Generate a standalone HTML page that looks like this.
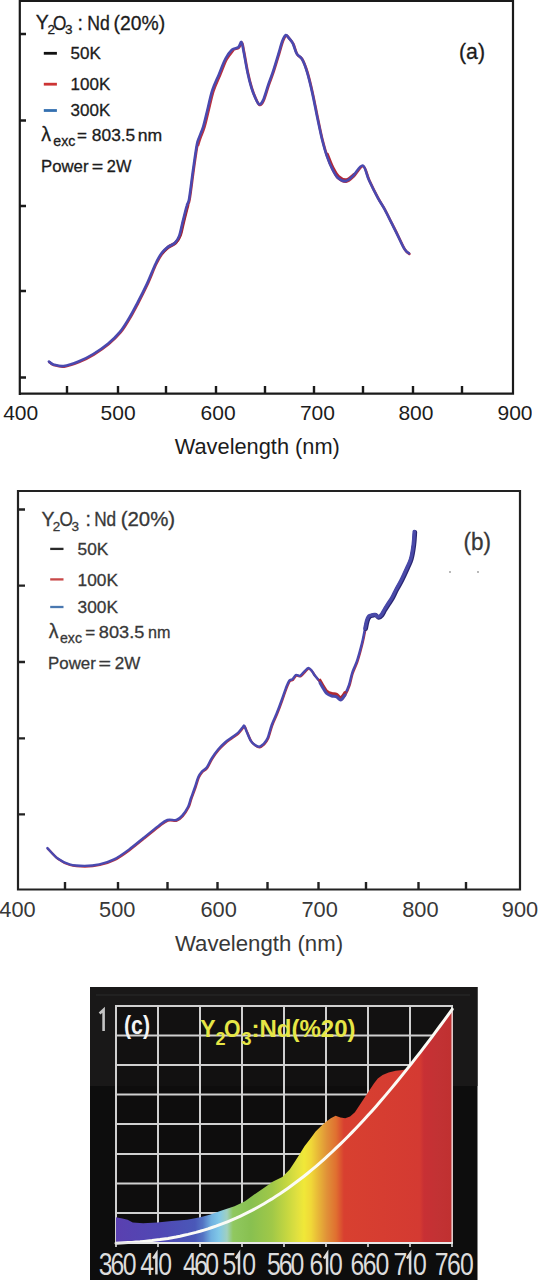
<!DOCTYPE html>
<html><head><meta charset="utf-8">
<style>
html,body{margin:0;padding:0;background:#fff;}
body{width:540px;height:1280px;overflow:hidden;position:relative;}
svg{position:absolute;left:0;top:0;}
text{font-family:"Liberation Sans",sans-serif;}
</style></head>
<body>
<svg width="540" height="1280" viewBox="0 0 540 1280">
<defs>
<linearGradient id="spec" x1="116" y1="0" x2="452" y2="0" gradientUnits="userSpaceOnUse">
<stop offset="0.0000" stop-color="#5a40b0"/>
<stop offset="0.1310" stop-color="#5048b4"/>
<stop offset="0.2351" stop-color="#4a58b8"/>
<stop offset="0.2589" stop-color="#5474c4"/>
<stop offset="0.2827" stop-color="#70b0e0"/>
<stop offset="0.3065" stop-color="#80c8e8"/>
<stop offset="0.3304" stop-color="#a0d0c0"/>
<stop offset="0.3482" stop-color="#90c860"/>
<stop offset="0.4018" stop-color="#88c050"/>
<stop offset="0.4643" stop-color="#a0c848"/>
<stop offset="0.5119" stop-color="#c8d840"/>
<stop offset="0.5387" stop-color="#e0e040"/>
<stop offset="0.5595" stop-color="#f0e838"/>
<stop offset="0.5804" stop-color="#f0d838"/>
<stop offset="0.6012" stop-color="#e8b838"/>
<stop offset="0.6280" stop-color="#e09038"/>
<stop offset="0.6548" stop-color="#e07030"/>
<stop offset="0.6786" stop-color="#d84030"/>
<stop offset="0.9048" stop-color="#d43a32"/>
<stop offset="0.9167" stop-color="#c83034"/>
<stop offset="0.9583" stop-color="#c23234"/>
<stop offset="1.0000" stop-color="#c03030"/>
</linearGradient>
<filter id="soft" x="-5%" y="-5%" width="110%" height="110%"><feGaussianBlur stdDeviation="0.35"/></filter>
</defs>

<!-- ============ Chart (a) ============ -->
<g id="chartA">
<path d="M19.8 395V0.8H513V393.7H18.8" fill="none" stroke="#1a1a1a" stroke-width="2.2"/>
<g stroke="#1a1a1a" stroke-width="2.4">
<path d="M19 34H26M19 120.5H26M19 206H26M19 291H26M19 377.5H26"/>
<path d="M67 386V393M118 386V393M166 386V393M216 386V393M265 386V393M314 386V393M363 386V393M413 386V393M462 386V393"/>
</g>
<g fill="none" stroke-linejoin="round" stroke-linecap="round" filter="url(#soft)">
<path d="M48.9 361.5 C49.6 362.0 50.8 363.6 53.3 364.4 C55.8 365.1 59.5 366.5 63.7 366.0 C67.9 365.5 73.6 363.5 78.5 361.5 C83.4 359.5 88.4 357.0 93.3 354.0 C98.2 351.0 103.5 347.4 108.0 343.7 C112.5 340.0 116.5 336.1 120.0 331.9 C123.5 327.7 125.9 323.4 128.9 318.5 C131.9 313.6 134.8 307.9 137.8 302.2 C140.8 296.5 143.7 290.8 146.7 284.4 C149.7 278.0 153.1 268.9 155.6 263.7 C158.1 258.5 159.5 256.0 161.5 253.3 C163.5 250.6 165.2 249.1 167.4 247.4 C169.6 245.7 172.8 245.0 174.8 243.0 C176.8 241.0 178.1 238.8 179.3 235.6 C180.5 232.4 181.0 228.6 182.2 223.7 C183.4 218.8 185.5 210.1 186.7 206.0 C187.8 201.9 188.0 204.8 189.1 198.9 C190.2 193.0 191.7 179.5 193.0 170.4 C194.3 161.3 195.8 150.0 196.9 144.4 C198.0 138.8 198.3 139.7 199.4 136.7 C200.5 133.7 202.0 130.6 203.3 126.3 C204.6 122.0 205.7 116.8 207.2 110.7 C208.7 104.7 210.4 96.0 212.4 90.0 C214.4 84.0 216.7 79.6 218.9 74.4 C221.1 69.2 223.2 63.0 225.4 58.9 C227.6 54.8 229.8 51.8 231.9 49.8 C234.1 47.8 236.7 48.5 238.3 47.2 C239.9 45.9 240.5 41.4 241.4 42.0 C242.3 42.6 242.5 46.0 243.5 51.0 C244.5 56.0 246.1 65.8 247.4 71.9 C248.7 78.0 250.0 83.1 251.3 87.4 C252.6 91.7 253.9 95.0 255.2 97.8 C256.5 100.6 257.8 103.9 259.1 104.3 C260.4 104.7 261.5 103.7 263.0 100.4 C264.5 97.2 266.5 89.8 268.2 84.8 C269.9 79.8 271.6 75.8 273.3 70.6 C275.0 65.4 277.0 58.7 278.5 53.7 C280.0 48.7 281.2 43.8 282.4 40.7 C283.6 37.6 284.7 35.4 285.8 35.0 C286.9 34.6 287.7 36.7 288.9 38.1 C290.1 39.5 291.5 40.7 292.8 43.3 C294.1 45.9 295.2 51.1 296.7 53.7 C298.2 56.3 300.2 55.9 301.9 58.9 C303.6 61.9 305.3 66.3 307.0 71.9 C308.7 77.5 310.4 84.6 312.2 92.6 C314.0 100.6 316.1 112.1 317.8 120.0 C319.5 127.9 320.7 134.1 322.2 140.0 C323.7 145.9 325.0 150.8 326.7 155.6 C328.4 160.4 330.3 165.2 332.2 168.9 C334.1 172.6 335.6 175.8 337.8 177.8 C340.0 179.8 343.0 181.5 345.6 181.1 C348.2 180.7 350.5 178.2 353.3 175.6 C356.1 173.0 360.1 164.9 362.7 165.6 C365.3 166.3 366.4 174.6 368.9 180.0 C371.4 185.4 375.2 193.0 377.8 197.8 C380.4 202.6 382.2 204.8 384.4 208.9 C386.6 213.0 388.9 217.8 391.1 222.2 C393.3 226.6 395.6 231.1 397.8 235.6 C400.0 240.1 402.5 245.9 404.4 248.9 C406.2 251.9 408.1 252.6 408.9 253.3" stroke="#b83040" stroke-width="2.6" transform="translate(0.5,0.6)"/>
<path d="M326.7 155.6 C327.6 157.8 330.3 165.2 332.2 168.9 C334.1 172.6 335.6 175.8 337.8 177.8 C340.0 179.8 343.0 181.5 345.6 181.1 C348.2 180.7 352.0 176.5 353.3 175.6" stroke="#b02838" stroke-width="2.6" transform="translate(0.8,-1.6)"/>
<path d="M196.9 144.4 C197.3 143.1 198.3 139.7 199.4 136.7 C200.5 133.7 202.0 130.6 203.3 126.3 C204.6 122.0 205.7 116.8 207.2 110.7 C208.7 104.7 210.4 96.0 212.4 90.0 C214.4 84.0 216.7 79.6 218.9 74.4 C221.1 69.2 223.2 63.0 225.4 58.9 C227.6 54.8 230.8 51.3 231.9 49.8" stroke="#b83040" stroke-width="2.6" transform="translate(1.2,0.6)"/>
<path d="M161.5 253.3 C162.5 252.3 165.2 249.1 167.4 247.4 C169.6 245.7 172.8 245.0 174.8 243.0 C176.8 241.0 178.1 238.8 179.3 235.6 C180.5 232.4 181.0 228.6 182.2 223.7 C183.4 218.8 185.9 208.9 186.7 206.0" stroke="#a02838" stroke-width="3" transform="translate(1.2,-0.6)"/>
<path d="M48.9 361.5 C49.6 362.0 50.8 363.6 53.3 364.4 C55.8 365.1 59.5 366.5 63.7 366.0 C67.9 365.5 73.6 363.5 78.5 361.5 C83.4 359.5 88.4 357.0 93.3 354.0 C98.2 351.0 103.5 347.4 108.0 343.7 C112.5 340.0 116.5 336.1 120.0 331.9 C123.5 327.7 125.9 323.4 128.9 318.5 C131.9 313.6 134.8 307.9 137.8 302.2 C140.8 296.5 143.7 290.8 146.7 284.4 C149.7 278.0 153.1 268.9 155.6 263.7 C158.1 258.5 159.5 256.0 161.5 253.3 C163.5 250.6 165.2 249.1 167.4 247.4 C169.6 245.7 172.8 245.0 174.8 243.0 C176.8 241.0 178.1 238.8 179.3 235.6 C180.5 232.4 181.0 228.6 182.2 223.7 C183.4 218.8 185.5 210.1 186.7 206.0 C187.8 201.9 188.0 204.8 189.1 198.9 C190.2 193.0 191.7 179.5 193.0 170.4 C194.3 161.3 195.8 150.0 196.9 144.4 C198.0 138.8 198.3 139.7 199.4 136.7 C200.5 133.7 202.0 130.6 203.3 126.3 C204.6 122.0 205.7 116.8 207.2 110.7 C208.7 104.7 210.4 96.0 212.4 90.0 C214.4 84.0 216.7 79.6 218.9 74.4 C221.1 69.2 223.2 63.0 225.4 58.9 C227.6 54.8 229.8 51.8 231.9 49.8 C234.1 47.8 236.7 48.5 238.3 47.2 C239.9 45.9 240.5 41.4 241.4 42.0 C242.3 42.6 242.5 46.0 243.5 51.0 C244.5 56.0 246.1 65.8 247.4 71.9 C248.7 78.0 250.0 83.1 251.3 87.4 C252.6 91.7 253.9 95.0 255.2 97.8 C256.5 100.6 257.8 103.9 259.1 104.3 C260.4 104.7 261.5 103.7 263.0 100.4 C264.5 97.2 266.5 89.8 268.2 84.8 C269.9 79.8 271.6 75.8 273.3 70.6 C275.0 65.4 277.0 58.7 278.5 53.7 C280.0 48.7 281.2 43.8 282.4 40.7 C283.6 37.6 284.7 35.4 285.8 35.0 C286.9 34.6 287.7 36.7 288.9 38.1 C290.1 39.5 291.5 40.7 292.8 43.3 C294.1 45.9 295.2 51.1 296.7 53.7 C298.2 56.3 300.2 55.9 301.9 58.9 C303.6 61.9 305.3 66.3 307.0 71.9 C308.7 77.5 310.4 84.6 312.2 92.6 C314.0 100.6 316.1 112.1 317.8 120.0 C319.5 127.9 320.7 134.1 322.2 140.0 C323.7 145.9 325.0 150.8 326.7 155.6 C328.4 160.4 330.3 165.2 332.2 168.9 C334.1 172.6 335.6 175.8 337.8 177.8 C340.0 179.8 343.0 181.5 345.6 181.1 C348.2 180.7 350.5 178.2 353.3 175.6 C356.1 173.0 360.1 164.9 362.7 165.6 C365.3 166.3 366.4 174.6 368.9 180.0 C371.4 185.4 375.2 193.0 377.8 197.8 C380.4 202.6 382.2 204.8 384.4 208.9 C386.6 213.0 388.9 217.8 391.1 222.2 C393.3 226.6 395.6 231.1 397.8 235.6 C400.0 240.1 402.5 245.9 404.4 248.9 C406.2 251.9 408.1 252.6 408.9 253.3" stroke="#4a4ab0" stroke-width="2.6"/>
</g>
<g fill="#1c1c1c" stroke="#1c1c1c" stroke-width="0.3">
<text x="35.8" y="29.3" font-size="19.5">Y</text>
<text x="47.6" y="34.2" font-size="13.5">2</text>
<text x="53.1" y="29.5" font-size="19.5" textLength="13.4" lengthAdjust="spacingAndGlyphs">O</text>
<text x="65" y="34.2" font-size="13.5">3</text>
<text x="77.6" y="29.6" font-size="19.5">:</text>
<text x="87.2" y="29.6" font-size="19.5" textLength="22.5" lengthAdjust="spacingAndGlyphs">Nd</text>
<text x="113.6" y="29.6" font-size="19.5" textLength="51.5" lengthAdjust="spacingAndGlyphs">(20%)</text>
<text x="70.6" y="59.4" font-size="17">50K</text>
<text x="70.6" y="89.6" font-size="17">100K</text>
<text x="70.6" y="116" font-size="17">300K</text>
<text x="41.3" y="141.4" font-size="19.5">λ</text>
<text x="53.3" y="146.4" font-size="14.5" textLength="22" lengthAdjust="spacingAndGlyphs">exc</text>
<text x="77" y="141.4" font-size="17">=</text>
<text x="91.8" y="141.4" font-size="17" textLength="43.5" lengthAdjust="spacingAndGlyphs">803.5</text>
<text x="137.8" y="141.4" font-size="17" textLength="24.5" lengthAdjust="spacingAndGlyphs">nm</text>
<text x="41" y="171.5" font-size="17" textLength="47.5" lengthAdjust="spacingAndGlyphs">Power</text><text x="91.8" y="171.5" font-size="17" textLength="11.5" lengthAdjust="spacingAndGlyphs">=</text><text x="106.8" y="171.5" font-size="17" textLength="24.5" lengthAdjust="spacingAndGlyphs">2W</text>
<text x="459" y="59.2" font-size="22" textLength="26" lengthAdjust="spacingAndGlyphs">(a)</text>
</g>
<path d="M43.8 53.3H56.9" stroke="#111" stroke-width="2.8"/>
<path d="M43.8 84.2H56.9" stroke="#cc3434" stroke-width="2.8"/>
<path d="M43.8 110.5H56.9" stroke="#3470b0" stroke-width="2.8"/>
<g fill="#1c1c1c" font-size="21">
<text x="20.7" y="420" text-anchor="middle">400</text>
<text x="118.1" y="420" text-anchor="middle">500</text>
<text x="218.1" y="420" text-anchor="middle">600</text>
<text x="317.4" y="420" text-anchor="middle">700</text>
<text x="415.9" y="420" text-anchor="middle">800</text>
<text x="515" y="420" text-anchor="middle">900</text>
<text x="257.3" y="453.9" text-anchor="middle" font-size="21.8">Wavelength (nm)</text>
</g>
</g>

<rect x="532" y="398" width="8" height="30" fill="#fff"/>
<!-- ============ Chart (b) ============ -->
<g id="chartB">
<path d="M18 890.5V491H520V889.5H17" fill="none" stroke="#222" stroke-width="2.2"/>
<g stroke="#222" stroke-width="2.4">
<path d="M18 509.5H25M18 585.6H25M18 662H25M18 738.4H25M18 814.4H25"/>
<path d="M65 882V889M118 882V889M167.5 882V889M217.5 882V889M267.5 882V889M318.5 882V889M366 882V889M418.5 882V889M466 882V889"/>
</g>
<g fill="none" stroke-linejoin="round" stroke-linecap="round" filter="url(#soft)">
<path d="M47.4 848.1 C49.1 849.8 54.1 855.8 57.8 858.5 C61.5 861.2 65.2 863.2 69.6 864.4 C74.0 865.6 79.5 865.9 84.4 865.9 C89.4 865.9 94.4 865.5 99.3 864.4 C104.2 863.3 109.1 861.9 114.0 859.4 C118.9 856.9 124.0 853.2 128.9 849.6 C133.8 846.0 138.8 841.8 143.7 837.8 C148.6 833.8 154.6 828.9 158.5 825.9 C162.4 822.9 164.4 821.0 167.4 820.0 C170.4 819.0 173.8 820.7 176.3 820.0 C178.8 819.3 180.2 817.8 182.2 815.6 C184.2 813.4 186.6 809.6 188.1 806.7 C189.6 803.8 189.8 801.3 191.0 798.0 C192.2 794.7 193.8 790.5 195.0 787.0 C196.2 783.5 197.2 779.5 198.3 777.0 C199.4 774.5 200.3 773.3 201.7 771.7 C203.1 770.1 205.0 769.7 206.7 767.5 C208.4 765.3 209.8 761.3 211.7 758.3 C213.6 755.2 216.1 751.8 218.3 749.2 C220.5 746.6 222.8 744.5 225.0 742.5 C227.2 740.5 229.5 739.2 231.7 737.5 C233.9 735.8 236.5 734.2 238.3 732.5 C240.1 730.8 241.5 728.6 242.5 727.5 C243.5 726.4 243.5 725.1 244.2 725.8 C244.9 726.5 245.6 729.2 246.7 731.7 C247.8 734.2 249.4 738.6 250.8 740.8 C252.2 743.0 253.6 744.0 255.0 745.0 C256.4 746.0 257.8 746.8 259.2 746.7 C260.6 746.6 261.9 745.6 263.3 744.2 C264.7 742.8 266.1 741.5 267.5 738.3 C268.9 735.1 270.2 729.2 271.7 725.0 C273.2 720.8 275.0 717.5 276.7 713.3 C278.4 709.1 280.2 704.2 281.7 700.0 C283.2 695.8 284.6 691.5 285.8 688.3 C287.1 685.1 288.1 682.3 289.2 680.8 C290.3 679.3 291.4 680.2 292.5 679.2 C293.6 678.2 294.6 675.6 295.8 675.0 C297.1 674.4 298.6 676.3 300.0 675.8 C301.4 675.2 302.8 673.0 304.2 671.7 C305.6 670.4 307.1 668.1 308.3 668.0 C309.6 667.9 310.6 669.5 311.7 670.8 C312.8 672.1 313.6 674.0 315.0 675.8 C316.4 677.6 318.6 679.8 320.0 681.7 C321.4 683.7 322.2 685.7 323.3 687.5 C324.4 689.3 325.3 691.2 326.7 692.5 C328.1 693.8 330.0 694.5 331.7 695.0 C333.4 695.5 335.2 695.1 336.7 695.8 C338.2 696.5 339.4 699.3 340.8 699.0 C342.2 698.7 343.6 696.3 345.0 694.0 C346.4 691.7 347.8 688.5 349.0 685.0 C350.2 681.5 350.9 676.7 352.2 672.8 C353.5 668.9 355.4 665.4 356.7 661.7 C358.0 658.0 359.0 654.3 360.0 650.6 C361.0 646.9 362.0 643.1 362.8 639.4 C363.6 635.7 364.4 631.4 365.0 628.3 C365.6 625.2 366.1 622.6 366.7 620.6 C367.3 618.6 368.0 617.0 368.9 616.1 C369.8 615.2 371.2 615.3 372.2 615.0 C373.2 614.7 374.0 614.2 375.0 614.5 C376.0 614.8 377.0 616.9 378.0 617.0 C379.0 617.1 380.0 616.3 381.1 615.0 C382.2 613.7 383.3 611.2 384.4 609.4 C385.5 607.5 386.5 605.9 387.8 603.9 C389.1 601.9 390.8 599.8 392.2 597.2 C393.6 594.6 394.9 591.5 396.5 588.5 C398.1 585.5 400.0 582.5 401.7 579.0 C403.4 575.5 405.4 571.2 406.9 567.8 C408.4 564.4 409.6 562.6 410.7 558.7 C411.8 554.8 412.7 548.9 413.3 544.4 C413.9 539.9 414.1 533.6 414.3 531.5" stroke="#b83040" stroke-width="2.3" transform="translate(0.5,0.6)"/>
<path d="M47.4 848.1 C49.1 849.8 54.1 855.8 57.8 858.5 C61.5 861.2 65.2 863.2 69.6 864.4 C74.0 865.6 79.5 865.9 84.4 865.9 C89.4 865.9 94.4 865.5 99.3 864.4 C104.2 863.3 109.1 861.9 114.0 859.4 C118.9 856.9 124.0 853.2 128.9 849.6 C133.8 846.0 138.8 841.8 143.7 837.8 C148.6 833.8 154.6 828.9 158.5 825.9 C162.4 822.9 164.4 821.0 167.4 820.0 C170.4 819.0 173.8 820.7 176.3 820.0 C178.8 819.3 180.2 817.8 182.2 815.6 C184.2 813.4 186.6 809.6 188.1 806.7 C189.6 803.8 189.8 801.3 191.0 798.0 C192.2 794.7 193.8 790.5 195.0 787.0 C196.2 783.5 197.2 779.5 198.3 777.0 C199.4 774.5 200.3 773.3 201.7 771.7 C203.1 770.1 205.0 769.7 206.7 767.5 C208.4 765.3 209.8 761.3 211.7 758.3 C213.6 755.2 216.1 751.8 218.3 749.2 C220.5 746.6 222.8 744.5 225.0 742.5 C227.2 740.5 229.5 739.2 231.7 737.5 C233.9 735.8 236.5 734.2 238.3 732.5 C240.1 730.8 241.5 728.6 242.5 727.5 C243.5 726.4 243.5 725.1 244.2 725.8 C244.9 726.5 245.6 729.2 246.7 731.7 C247.8 734.2 249.4 738.6 250.8 740.8 C252.2 743.0 253.6 744.0 255.0 745.0 C256.4 746.0 257.8 746.8 259.2 746.7 C260.6 746.6 261.9 745.6 263.3 744.2 C264.7 742.8 266.1 741.5 267.5 738.3 C268.9 735.1 270.2 729.2 271.7 725.0 C273.2 720.8 275.0 717.5 276.7 713.3 C278.4 709.1 280.2 704.2 281.7 700.0 C283.2 695.8 284.6 691.5 285.8 688.3 C287.1 685.1 288.1 682.3 289.2 680.8 C290.3 679.3 291.4 680.2 292.5 679.2 C293.6 678.2 294.6 675.6 295.8 675.0 C297.1 674.4 298.6 676.3 300.0 675.8 C301.4 675.2 302.8 673.0 304.2 671.7 C305.6 670.4 307.1 668.1 308.3 668.0 C309.6 667.9 310.6 669.5 311.7 670.8 C312.8 672.1 313.6 674.0 315.0 675.8 C316.4 677.6 318.6 679.8 320.0 681.7 C321.4 683.7 322.2 685.7 323.3 687.5 C324.4 689.3 325.3 691.2 326.7 692.5 C328.1 693.8 330.0 694.5 331.7 695.0 C333.4 695.5 335.2 695.1 336.7 695.8 C338.2 696.5 339.4 699.3 340.8 699.0 C342.2 698.7 343.6 696.3 345.0 694.0 C346.4 691.7 347.8 688.5 349.0 685.0 C350.2 681.5 350.9 676.7 352.2 672.8 C353.5 668.9 355.4 665.4 356.7 661.7 C358.0 658.0 359.0 654.3 360.0 650.6 C361.0 646.9 362.0 643.1 362.8 639.4 C363.6 635.7 364.4 631.4 365.0 628.3 C365.6 625.2 366.1 622.6 366.7 620.6 C367.3 618.6 368.0 617.0 368.9 616.1 C369.8 615.2 371.2 615.3 372.2 615.0 C373.2 614.7 374.0 614.2 375.0 614.5 C376.0 614.8 377.0 616.9 378.0 617.0 C379.0 617.1 380.0 616.3 381.1 615.0 C382.2 613.7 383.3 611.2 384.4 609.4 C385.5 607.5 386.5 605.9 387.8 603.9 C389.1 601.9 390.8 599.8 392.2 597.2 C393.6 594.6 394.9 591.5 396.5 588.5 C398.1 585.5 400.0 582.5 401.7 579.0 C403.4 575.5 405.4 571.2 406.9 567.8 C408.4 564.4 409.6 562.6 410.7 558.7 C411.8 554.8 412.7 548.9 413.3 544.4 C413.9 539.9 414.1 533.6 414.3 531.5" stroke="#4a4ab0" stroke-width="2.4"/>
<path d="M365.0 628.3 C365.3 627.0 366.1 622.6 366.7 620.6 C367.3 618.6 368.0 617.0 368.9 616.1 C369.8 615.2 371.2 615.3 372.2 615.0 C373.2 614.7 374.0 614.2 375.0 614.5 C376.0 614.8 377.0 616.9 378.0 617.0 C379.0 617.1 380.0 616.3 381.1 615.0 C382.2 613.7 383.3 611.2 384.4 609.4 C385.5 607.5 386.5 605.9 387.8 603.9 C389.1 601.9 390.8 599.8 392.2 597.2 C393.6 594.6 394.9 591.5 396.5 588.5 C398.1 585.5 400.0 582.5 401.7 579.0 C403.4 575.5 405.4 571.2 406.9 567.8 C408.4 564.4 409.6 562.6 410.7 558.7 C411.8 554.8 412.7 548.9 413.3 544.4 C413.9 539.9 414.1 533.6 414.3 531.5" stroke="#2a2670" stroke-width="4.2" transform="translate(0.8,0.6)"/>
<path d="M365.0 628.3 C365.3 627.0 366.1 622.6 366.7 620.6 C367.3 618.6 368.0 617.0 368.9 616.1 C369.8 615.2 371.2 615.3 372.2 615.0 C373.2 614.7 374.0 614.2 375.0 614.5 C376.0 614.8 377.0 616.9 378.0 617.0 C379.0 617.1 380.0 616.3 381.1 615.0 C382.2 613.7 383.3 611.2 384.4 609.4 C385.5 607.5 386.5 605.9 387.8 603.9 C389.1 601.9 390.8 599.8 392.2 597.2 C393.6 594.6 394.9 591.5 396.5 588.5 C398.1 585.5 400.0 582.5 401.7 579.0 C403.4 575.5 405.4 571.2 406.9 567.8 C408.4 564.4 409.6 562.6 410.7 558.7 C411.8 554.8 412.7 548.9 413.3 544.4 C413.9 539.9 414.1 533.6 414.3 531.5" stroke="#4848a8" stroke-width="3.6"/>
<path d="M320.0 681.7 C320.6 682.7 322.2 685.7 323.3 687.5 C324.4 689.3 325.3 691.2 326.7 692.5 C328.1 693.8 330.0 694.5 331.7 695.0 C333.4 695.5 335.2 695.1 336.7 695.8 C338.2 696.5 339.4 699.3 340.8 699.0 C342.2 698.7 344.3 694.8 345.0 694.0" stroke="#b02a30" stroke-width="3" transform="translate(0,-1.5)"/>
<path d="M320.0 681.7 C320.6 682.7 322.2 685.7 323.3 687.5 C324.4 689.3 325.3 691.2 326.7 692.5 C328.1 693.8 330.0 694.5 331.7 695.0 C333.4 695.5 335.2 695.1 336.7 695.8 C338.2 696.5 339.4 699.3 340.8 699.0 C342.2 698.7 344.3 694.8 345.0 694.0" stroke="#4a4aac" stroke-width="3" transform="translate(0,1)"/>
</g>
<g fill="#383838" stroke="#383838" stroke-width="0.3">
<text x="41.5" y="526" font-size="19.5">Y</text>
<text x="52.8" y="530.8" font-size="13.5">2</text>
<text x="59.5" y="526" font-size="19.5" textLength="13.4" lengthAdjust="spacingAndGlyphs">O</text>
<text x="71.5" y="530.6" font-size="13.5">3</text>
<text x="85.6" y="526" font-size="19.5">:</text>
<text x="94.2" y="526" font-size="19.5" textLength="22" lengthAdjust="spacingAndGlyphs">Nd</text>
<text x="120.7" y="526" font-size="19.5" textLength="54.5" lengthAdjust="spacingAndGlyphs">(20%)</text>
<text x="77.6" y="554.7" font-size="17.3">50K</text>
<text x="77.6" y="585.7" font-size="17.3">100K</text>
<text x="77.6" y="612.5" font-size="17.3">300K</text>
<text x="48.8" y="637.8" font-size="19.5">λ</text>
<text x="60" y="642.8" font-size="14.5" textLength="22" lengthAdjust="spacingAndGlyphs">exc</text>
<text x="85.2" y="637.8" font-size="17">=</text>
<text x="98.8" y="637.8" font-size="17" textLength="45.5" lengthAdjust="spacingAndGlyphs">803.5</text>
<text x="148" y="637.8" font-size="17" textLength="22.5" lengthAdjust="spacingAndGlyphs">nm</text>
<text x="48" y="668.8" font-size="17.3" textLength="47.8" lengthAdjust="spacingAndGlyphs">Power</text><text x="98.6" y="668.8" font-size="17.3" textLength="12.5" lengthAdjust="spacingAndGlyphs">=</text><text x="114.8" y="668.8" font-size="17.3" textLength="25.5" lengthAdjust="spacingAndGlyphs">2W</text>
<text x="463.6" y="549.8" font-size="23" textLength="27.5" lengthAdjust="spacingAndGlyphs">(b)</text>
</g>
<path d="M50.2 548.9H63.5" stroke="#2a2a2a" stroke-width="2.3"/>
<path d="M50.2 579.4H63.5" stroke="#c84848" stroke-width="2.3"/>
<path d="M50.2 607H63.5" stroke="#4a78b0" stroke-width="2.3"/>
<circle cx="450" cy="572" r="0.9" fill="#999"/>
<circle cx="478" cy="572" r="0.9" fill="#999"/>
<g fill="#383838" font-size="21.8">
<text x="17.5" y="917" text-anchor="middle">400</text>
<text x="117.3" y="917" text-anchor="middle">500</text>
<text x="218.6" y="917" text-anchor="middle">600</text>
<text x="319.6" y="917" text-anchor="middle">700</text>
<text x="420.4" y="917" text-anchor="middle">800</text>
<text x="520" y="917" text-anchor="middle">900</text>
<text x="259" y="951.3" text-anchor="middle" font-size="22.2">Wavelength (nm)</text>
</g>
</g>

<!-- ============ Chart (c) ============ -->
<g id="chartC">
<rect x="90" y="987" width="387.5" height="293" fill="#0d0d0d"/>
<rect x="90" y="987" width="387.5" height="99" fill="#191818"/>
<path d="M96 995H470" stroke="#2a2a2a" stroke-width="1"/>
<rect x="116" y="1006" width="336" height="237" fill="#0e0d0d"/>
<rect x="116" y="1006" width="336" height="80" fill="#121111"/>
<g stroke="#d0d0d0" stroke-width="2">
<path d="M116 1005V1243M158 1005V1243M200 1005V1243M242 1005V1243M284 1005V1243M326 1005V1243M368 1005V1243M410 1005V1243M452 1005V1243"/>
<path d="M115 1006H453M115 1035.5H453M115 1065H453M115 1094.5H453M115 1124H453M115 1154H453M115 1183.5H453M115 1213H453"/>
</g>
<path fill="url(#spec)" d="M116.0 1217.2 L122.4 1218.5 L127.6 1219.8 L132.7 1222.4 L143.1 1223.2 L157.4 1222.4 L171.6 1221.1 L187.2 1219.8 L200.2 1217.2 L210.5 1214.6 L220.9 1210.7 L234.5 1206.2 L245.0 1201.2 L253.5 1195.0 L263.8 1188.0 L273.0 1181.5 L282.3 1176.9 L289.7 1169.4 L295.3 1161.1 L299.9 1153.7 L304.5 1146.3 L310.1 1138.9 L315.6 1131.5 L321.2 1125.9 L326.0 1121.8 L330.8 1118.2 L335.6 1115.8 L340.4 1117.5 L345.3 1118.2 L350.1 1116.6 L354.9 1112.2 L359.7 1105.0 L364.5 1097.8 L369.3 1090.6 L374.1 1083.3 L377.8 1078.5 L382.6 1074.9 L388.6 1072.5 L395.8 1070.8 L403.0 1070.1 L406.6 1068.9 L408.0 1068.4 L412.0 1063.4 L416.0 1058.2 L420.0 1053.1 L424.0 1047.8 L428.0 1042.6 L432.0 1037.3 L436.0 1031.9 L440.0 1026.5 L444.0 1021.1 L448.0 1015.6 L452.2 1009.8 L452.2 1243.0 L116.0 1243.0Z"/>
<path d="M452.2 1012V1243" stroke="#e0c8c8" stroke-width="1.6"/>
<path fill="none" stroke="#fbfbf6" stroke-width="3" stroke-linecap="round" d="M116.0 1243.2 L120.0 1243.0 L124.0 1242.8 L128.0 1242.6 L132.0 1242.4 L136.0 1242.1 L140.0 1241.8 L144.0 1241.4 L148.0 1241.0 L152.0 1240.6 L156.0 1240.1 L160.0 1239.6 L164.0 1239.0 L168.0 1238.4 L172.0 1237.7 L176.0 1237.0 L180.0 1236.2 L184.0 1235.3 L188.0 1234.4 L192.0 1233.4 L196.0 1232.4 L200.0 1231.3 L204.0 1230.1 L208.0 1228.9 L212.0 1227.5 L216.0 1226.2 L220.0 1224.7 L224.0 1223.2 L228.0 1221.6 L232.0 1219.9 L236.0 1218.2 L240.0 1216.3 L244.0 1214.4 L248.0 1212.4 L252.0 1210.4 L256.0 1208.2 L260.0 1206.0 L264.0 1203.7 L268.0 1201.3 L272.0 1198.9 L276.0 1196.3 L280.0 1193.7 L284.0 1191.0 L288.0 1188.2 L292.0 1185.3 L296.0 1182.3 L300.0 1179.3 L304.0 1176.2 L308.0 1173.0 L312.0 1169.7 L316.0 1166.3 L320.0 1162.9 L324.0 1159.3 L328.0 1155.7 L332.0 1152.0 L336.0 1148.2 L340.0 1144.4 L344.0 1140.5 L348.0 1136.5 L352.0 1132.4 L356.0 1128.2 L360.0 1124.0 L364.0 1119.7 L368.0 1115.3 L372.0 1110.9 L376.0 1106.4 L380.0 1101.8 L384.0 1097.1 L388.0 1092.4 L392.0 1087.6 L396.0 1082.8 L400.0 1077.9 L404.0 1072.9 L408.0 1067.9 L412.0 1062.9 L416.0 1057.7 L420.0 1052.6 L424.0 1047.3 L428.0 1042.1 L432.0 1036.8 L436.0 1031.4 L440.0 1026.0 L444.0 1020.6 L448.0 1015.1 L452.0 1009.6 L452.2 1009.3"/>
<path d="M115 1243H453" stroke="#e8e8e8" stroke-width="2"/>
<g stroke="#e0e0e0" stroke-width="1.6"><path d="M116 1243V1247M158 1243V1247M200 1243V1247M242 1243V1247M284 1243V1247M326 1243V1247M368 1243V1247M410 1243V1247M452 1243V1247"/></g>
<text x="124" y="1033.7" font-size="25" font-weight="bold" fill="#f4f4f4" textLength="26" lengthAdjust="spacingAndGlyphs">(c)</text>
<path d="M99.6 1013.5L103.6 1009.8V1031" fill="none" stroke="#c4c4c4" stroke-width="2.6"/>
<g fill="#e6e646" font-weight="bold">
<text x="200.3" y="1036.6" font-size="23">Y</text>
<text x="215.5" y="1045" font-size="18">2</text>
<text x="224" y="1036.6" font-size="23" textLength="16.5" lengthAdjust="spacingAndGlyphs">O</text>
<text x="241.5" y="1045" font-size="18">3</text>
<text x="251.5" y="1036.6" font-size="23" textLength="104" lengthAdjust="spacingAndGlyphs">:Nd(%20)</text>
</g>
<g fill="#dcdcdc" font-size="31" transform="scale(0.80,1)">
<text x="123.3" y="1274.6">3</text><text x="138.2" y="1274.6">6</text><text x="153.3" y="1274.6">0</text>
<text x="175.4" y="1274.6">4</text><text x="197.8" y="1274.6">0</text>
<text x="228.9" y="1274.6">4</text><text x="242.8" y="1274.6">6</text><text x="256.7" y="1274.6">0</text>
<text x="278.0" y="1274.6">5</text><text x="302.9" y="1274.6">0</text>
<text x="333.9" y="1274.6">5</text><text x="348.4" y="1274.6">6</text><text x="363.2" y="1274.6">0</text>
<text x="387.0" y="1274.6">6</text><text x="411.3" y="1274.6">0</text>
<text x="438.0" y="1274.6">6</text><text x="453.4" y="1274.6">6</text><text x="469.4" y="1274.6">0</text>
<text x="491.8" y="1274.6">7</text><text x="516.3" y="1274.6">0</text>
<text x="543.4" y="1274.6">7</text><text x="558.8" y="1274.6">6</text><text x="575.0" y="1274.6">0</text>
</g>
<path fill="none" stroke="#dcdcdc" stroke-width="2.5" d="M153.2 1258.5L156.4 1253.6V1274.6M235.8 1258.5L239.0 1253.6V1274.6M323.9 1258.5L327.1 1253.6V1274.6M406.9 1258.5L410.1 1253.6V1274.6"/>
</g>
</g>
</svg>
</body></html>
